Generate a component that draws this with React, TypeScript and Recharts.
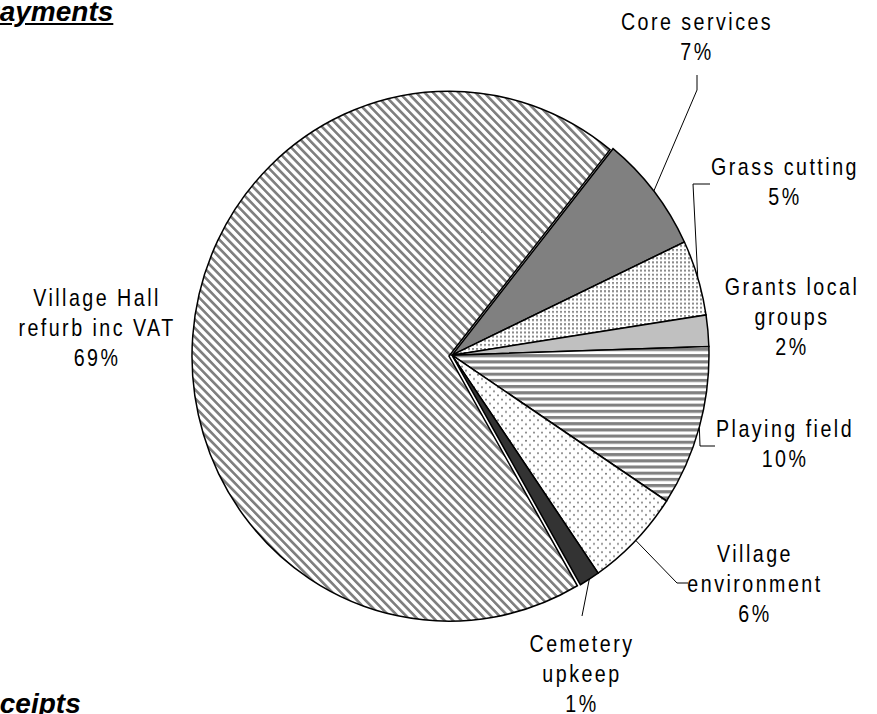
import React from "react";
import { PieChart, Pie, Cell } from "recharts";

// slices, clockwise from the top right
const categories = [
  "Core services",
  "Grass cutting",
  "Grants local\ngroups",
  "Playing field",
  "Village\nenvironment",
  "Cemetery\nupkeep",
  "Village Hall\nrefurb inc VAT",
];
const shares = [7.2, 4.6, 1.9, 9.8, 6.1, 1.3, 69.1];

const data = categories.map((name, i) => ({ name, value: shares[i] }));

const fills = [
  "#808080",
  "url(#dotsFine)",
  "#c0c0c0",
  "url(#hStripes)",
  "url(#dotsSparse)",
  "#333333",
  "url(#diagStripes)",
];

// text centre x, first baseline y, leader bend points
const labelPos: { x: number; y: number; line: number[][] | null }[] = [
  { x: 697, y: 30, line: [[697, 90], [697, 75]] },
  { x: 785, y: 175, line: [[693, 184], [710, 184]] },
  { x: 792, y: 295, line: null },
  { x: 785, y: 437, line: [[700, 446], [715, 446]] },
  { x: 755, y: 562, line: [[677, 583], [688, 583]] },
  { x: 582, y: 652, line: [[582, 616]] },
  { x: 97, y: 306, line: null },
];

const RADIAN = Math.PI / 180;
const VH = categories.length - 1;
const SQUASH = 1.031; // the pie is a bit taller than wide
const CX = 447;
const CY = 350;
const R = 257;
const START = 51.2;

const renderLabel = (props: any) => {
  const { cx, cy, midAngle, outerRadius, index } = props;
  const pos = labelPos[index];
  const sx = cx + outerRadius * Math.cos(-midAngle * RADIAN);
  const sy = cy + outerRadius * SQUASH * Math.sin(-midAngle * RADIAN);
  const lines = [...categories[index].split("\n"), Math.round(shares[index]) + "%"];
  return (
    <g key={"lbl" + index}>
      {pos.line && (
        <polyline
          points={[[sx, sy], ...pos.line].map((p) => p.join(",")).join(" ")}
          fill="none"
          stroke="#000"
          strokeWidth={1}
        />
      )}
      <text
        transform={`translate(${pos.x} ${pos.y}) scale(0.82 1)`}
        textAnchor="middle"
        fontFamily="'Liberation Sans', Arial, sans-serif"
        fontSize={24}
        letterSpacing={3}
        fill="#000"
      >
        {lines.map((t, i) => (
          <tspan key={i} x={0} y={i * 30}>
            {t}
          </tspan>
        ))}
      </text>
    </g>
  );
};

const titleStyle: React.CSSProperties = {
  position: "absolute",
  fontFamily: "'Liberation Sans', Arial, sans-serif",
  fontSize: 28,
  fontWeight: "bold",
  fontStyle: "italic",
  textDecoration: "underline",
  lineHeight: "28px",
  whiteSpace: "nowrap",
};

const layer: React.CSSProperties = { position: "absolute", left: 0, top: 0 };

export default function App() {
  return (
    <div
      style={{
        position: "absolute",
        left: 0,
        top: 0,
        width: 877,
        height: 714,
        overflow: "hidden",
        background: "#fff",
      }}
    >
      <div style={{ ...titleStyle, left: -19, top: -2 }}>Payments</div>
      <div style={{ ...titleStyle, left: -36, top: 690 }}>Receipts</div>
      <div style={{ ...layer, transform: `scaleY(${SQUASH})`, transformOrigin: `${CX}px ${CY}px` }}>
        <PieChart width={877} height={714}>
          <defs>
            <pattern id="diagStripes" patternUnits="userSpaceOnUse" width="6" height="6" patternTransform="rotate(-45)">
              <rect width="6" height="6" fill="#fff" />
              <rect width="2.6" height="6" fill="#7f7f7f" />
            </pattern>
            <pattern id="hStripes" patternUnits="userSpaceOnUse" width="6" height="6">
              <rect width="6" height="6" fill="#fff" />
              <rect width="6" height="3" fill="#808080" />
            </pattern>
            <pattern id="dotsFine" patternUnits="userSpaceOnUse" width="4" height="4">
              <rect width="4" height="4" fill="#fff" />
              <rect width="2" height="2" fill="#8c8c8c" />
            </pattern>
            <pattern id="dotsSparse" patternUnits="userSpaceOnUse" width="8" height="8">
              <rect width="8" height="8" fill="#fff" />
              <circle cx="2" cy="2" r="1" fill="#777" />
              <circle cx="6" cy="6" r="1" fill="#777" />
            </pattern>
          </defs>
          {/* the big slice, pulled slightly out to the left */}
          <Pie
            data={data}
            dataKey="value"
            cx={CX - 3}
            cy={CY + 1}
            outerRadius={R}
            startAngle={START}
            endAngle={START - 360}
            label={false}
            labelLine={false}
            isAnimationActive={false}
          >
            {data.map((d, i) => (
              <Cell
                key={d.name}
                fill={i === VH ? fills[i] : "none"}
                stroke={i === VH ? "#000" : "none"}
                strokeWidth={1.5}
              />
            ))}
          </Pie>
          <Pie
            data={data}
            dataKey="value"
            cx={CX}
            cy={CY}
            outerRadius={R}
            startAngle={START}
            endAngle={START - 360}
            label={false}
            labelLine={false}
            isAnimationActive={false}
          >
            {data.map((d, i) => (
              <Cell
                key={d.name}
                fill={i === VH ? "none" : fills[i]}
                stroke={i === VH ? "none" : "#000"}
                strokeWidth={1.5}
              />
            ))}
          </Pie>
        </PieChart>
      </div>
      <div style={layer}>
        <PieChart width={877} height={714}>
          <Pie
            data={data}
            dataKey="value"
            cx={CX}
            cy={CY}
            outerRadius={R}
            startAngle={START}
            endAngle={START - 360}
            label={renderLabel}
            labelLine={false}
            isAnimationActive={false}
          >
            {data.map((d) => (
              <Cell key={d.name} fill="none" stroke="none" />
            ))}
          </Pie>
        </PieChart>
      </div>
    </div>
  );
}
